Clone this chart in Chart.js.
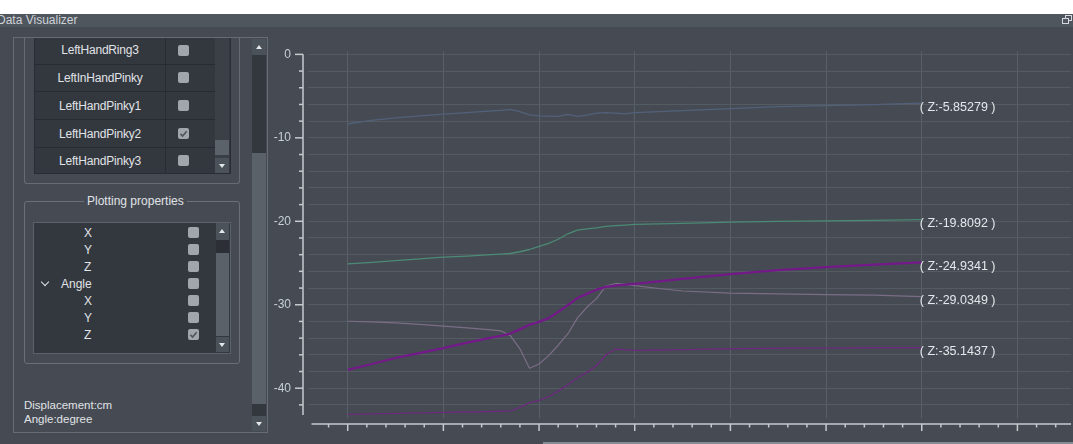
<!DOCTYPE html>
<html><head><meta charset="utf-8">
<script src="https://cdn.jsdelivr.net/npm/chart.js@4/dist/chart.umd.min.js"></script>
<style>
html,body{margin:0;padding:0;}
body{width:1073px;height:444px;overflow:hidden;background:#464b53;position:relative;font-family:"Liberation Sans",Arial,sans-serif;}
.a{position:absolute;}
.cb{position:absolute;width:11px;height:11px;background:#a1a6ad;border-radius:2px;}
.txt{position:absolute;color:#e0e3e7;white-space:nowrap;}
.btn{position:absolute;background:#4c5259;}
.up,.dn{position:absolute;width:0;height:0;border-left:3.5px solid transparent;border-right:3.5px solid transparent;}
.up{border-bottom:4px solid #e4e7ea;}
.dn{border-top:4px solid #e4e7ea;}
#chartBox{position:absolute;left:268px;top:27px;width:805px;height:417px;}
</style></head><body>
<div class="a" style="left:0;top:0;width:1073px;height:14px;background:#ffffff"></div>
<div class="a" style="left:0;top:14px;width:1073px;height:13px;background:#50565e"></div>
<div class="txt" style="left:-3px;top:13px;height:14px;line-height:14px;font-size:12px;color:#cfd3d8">Data Visualizer</div>
<div class="a" style="left:1065px;top:15px;width:5px;height:4px;border:1px solid #d5d9dd"></div>
<div class="a" style="left:1062px;top:18px;width:5px;height:4px;border:1px solid #d5d9dd;background:#50565e"></div>

<!-- outer frame -->
<div class="a" style="left:13px;top:37px;width:253px;height:394px;border:1px solid #666c74"></div>
<!-- top group box (scrolled, top clipped) -->
<div class="a" style="left:24px;top:38px;width:214px;height:145px;border:1px solid #666c74;border-top:none;border-radius:0 0 3px 3px"></div>
<!-- top list -->
<div class="a" style="left:34px;top:38px;width:195px;height:135px;background:#33373e;border:1px solid #2a2e34;border-top:none"></div>
<div class="a" style="left:165px;top:38px;width:1px;height:135px;background:#292c32"></div>
<div id="topList"></div>
<!-- top list scrollbar -->
<div class="a" style="left:215px;top:38px;width:14px;height:120px;background:#3b3f46"></div>
<div class="a" style="left:215px;top:140px;width:14px;height:15px;background:#5c626a"></div>
<div class="btn" style="left:215px;top:158px;width:14px;height:15px"></div>
<div class="dn" style="left:218.5px;top:164px"></div>

<!-- big scrollbar -->
<div class="btn" style="left:252px;top:39px;width:14px;height:16px"></div>
<div class="up" style="left:255.5px;top:45px"></div>
<div class="a" style="left:252px;top:55px;width:14px;height:98px;background:#33373e"></div>
<div class="a" style="left:252px;top:153px;width:14px;height:251px;background:#5b6169"></div>
<div class="a" style="left:252px;top:404px;width:14px;height:12px;background:#33373e"></div>
<div class="btn" style="left:252px;top:416px;width:14px;height:15px"></div>
<div class="dn" style="left:255.5px;top:422px"></div>

<!-- plotting properties group -->
<div class="a" style="left:24px;top:201px;width:214px;height:161px;border:1px solid #6a7078;border-radius:3px"></div>
<div class="txt" style="left:84px;top:194px;padding:0 3px;background:#464b53;font-size:12px;line-height:15px">Plotting properties</div>
<div class="a" style="left:33px;top:222px;width:196px;height:130px;background:#33373e;border:1px solid #5c6269"></div>
<div id="propList"></div>
<div class="btn" style="left:216px;top:223px;width:13px;height:17px"></div>
<div class="up" style="left:219px;top:229px"></div>
<div class="a" style="left:216px;top:240px;width:13px;height:13px;background:#2c3036"></div>
<div class="a" style="left:216px;top:253px;width:13px;height:83px;background:#5b6169"></div>
<div class="btn" style="left:216px;top:337px;width:13px;height:15px"></div>
<div class="dn" style="left:219px;top:343px"></div>

<div class="txt" style="left:24px;top:398px;line-height:14px;font-size:11.5px">Displacement:cm</div>
<div class="txt" style="left:24px;top:411.5px;line-height:14px;font-size:11.5px">Angle:degree</div>
<div class="a" style="left:543px;top:442px;width:530px;height:2px;background:#858b92"></div>

<div id="chartBox"><canvas id="c" width="805" height="417"></canvas></div>

<script>
// ---- panel content ----
const listNames = ['LeftHandRing3','LeftInHandPinky','LeftHandPinky1','LeftHandPinky2','LeftHandPinky3'];
const listChecked = [false,false,false,true,false];
const propNames = ['X','Y','Z','Angle','X','Y','Z'];
const propChecked = [false,false,false,false,false,false,true];

const checkSvg = '<svg width="11" height="11" style="display:block"><path d="M2.4 5.9 L4.6 8 L8.7 3.2" stroke="#52575e" stroke-width="1.7" fill="none"/></svg>';
function checkbox(x, y, checked){
  return '<div class="cb" style="left:'+x+'px;top:'+y+'px">'+(checked?checkSvg:'')+'</div>';
}
let h = '';
const rowCenters = [50, 77.5, 105.5, 133.5, 160.5];
listNames.forEach((n,i)=>{
  const c = rowCenters[i];
  h += '<div class="txt" style="left:35px;width:130px;text-align:center;top:'+(c-7)+'px;line-height:14px;font-size:12px;letter-spacing:-0.2px">'+n+'</div>';
  h += checkbox(178, c-5.5, listChecked[i]);
  if (i < listNames.length-1) h += '<div class="a" style="left:35px;top:'+(c+13.5)+'px;width:180px;height:1px;background:#282b31"></div>';
});
document.getElementById('topList').innerHTML = h;
h = '';
propNames.forEach((n,i)=>{
  const c = 232.5 + 17*i;
  const isParent = n === 'Angle';
  h += '<div class="txt" style="left:'+(isParent?61:84)+'px;top:'+(c-7)+'px;line-height:14px;font-size:12px">'+n+'</div>';
  if (isParent) h += '<div class="a" style="left:42px;top:'+(c-5)+'px;width:5px;height:5px;border-right:1.5px solid #e0e3e7;border-bottom:1.5px solid #e0e3e7;transform:rotate(45deg)"></div>';
  h += checkbox(188, c-5.5, propChecked[i]);
});
document.getElementById('propList').innerHTML = h;

// ---- chart data ----
const frames = [0,0.25,0.5,0.75,1,1.25,1.5,1.6,1.7,1.8,1.9,2,2.1,2.2,2.3,2.4,2.5,2.6,2.7,2.8,2.9,3,3.25,3.5,4,4.5,5,5.5,6];
const zBlue   = [-8.34,-7.91,-7.6,-7.36,-7.17,-6.97,-6.78,-6.7,-6.6,-6.85,-7.25,-7.38,-7.4,-7.44,-7.2,-7.42,-7.29,-7.05,-6.98,-7.05,-7.12,-6.98,-6.86,-6.75,-6.51,-6.27,-6.13,-6.01,-5.85279];
const zGreen  = [-25.11,-24.92,-24.72,-24.5,-24.3,-24.17,-24.0,-23.93,-23.86,-23.65,-23.38,-23.0,-22.65,-22.15,-21.5,-21.05,-20.9,-20.78,-20.62,-20.52,-20.45,-20.38,-20.3,-20.25,-20.1,-20.02,-19.96,-19.9,-19.8092];
const zPurple = [-37.79,-37.1,-36.38,-35.8,-35.2,-34.55,-33.95,-33.72,-33.45,-32.95,-32.4,-32.05,-31.6,-30.85,-30.05,-29.2,-28.7,-28.2,-27.85,-27.7,-27.58,-27.5,-27.2,-26.9,-26.33,-25.85,-25.5,-25.2,-24.9341];
const zGray   = [-31.98,-32.05,-32.17,-32.35,-32.56,-32.78,-33.0,-33.12,-33.7,-35.28,-37.6,-37.1,-36.1,-34.85,-33.5,-31.6,-30.3,-29.27,-27.75,-27.45,-27.55,-27.72,-28.05,-28.35,-28.6,-28.7,-28.78,-28.85,-29.0349];
const zViolet = [-43.14,-43.08,-43.02,-42.96,-42.9,-42.85,-42.8,-42.76,-42.72,-42.3,-41.75,-41.45,-41.0,-40.35,-39.6,-38.75,-38.1,-37.3,-36.0,-35.3,-35.4,-35.47,-35.42,-35.38,-35.28,-35.22,-35.17,-35.15,-35.1437];

const xMin = -0.415, xMax = 7.56, xMinorStep = 0.2;
const yMin = -43.57, yMax = 0.38, yMinorStep = 2, yMajorStep = 10, yAxisEnd = -43.2;

const pts = arr => frames.map((f,i)=>({x:f, y:arr[i]}));
const isInt = v => Math.abs(v - Math.round(v)) < 1e-6;

const axesPlugin = {
  id:'axes',
  afterDraw(chart){
    const {ctx, chartArea:a, scales:{x, y}} = chart;
    ctx.save();
    ctx.strokeStyle = '#c6cacf';
    ctx.lineWidth = 1.5;
    const ax = a.left - 5;
    const yTop = y.getPixelForValue(0), yBot = y.getPixelForValue(yAxisEnd);
    ctx.beginPath(); ctx.moveTo(ax, yTop); ctx.lineTo(ax, yBot); ctx.stroke();
    y.ticks.forEach(t=>{
      const py = y.getPixelForValue(t.value);
      if (py > yBot + 0.5 || py < yTop - 0.5) return;
      const len = Math.abs(t.value % yMajorStep) < 1e-9 ? 8 : 4;
      ctx.beginPath(); ctx.moveTo(ax - len, py); ctx.lineTo(ax, py); ctx.stroke();
    });
    const ay = a.bottom + 6;
    const xs = a.left + 3.5;
    ctx.beginPath(); ctx.moveTo(xs, ay); ctx.lineTo(a.right, ay); ctx.stroke();
    x.ticks.forEach(t=>{
      const px = x.getPixelForValue(t.value);
      if (px < xs || px > a.right) return;
      const len = isInt(t.value) ? 7 : 3.5;
      ctx.beginPath(); ctx.moveTo(px, ay); ctx.lineTo(px, ay + len); ctx.stroke();
    });
    ctx.restore();
  }
};
const endLabelPlugin = {
  id:'endLabels',
  afterDatasetsDraw(chart){
    const ctx = chart.ctx;
    ctx.save();
    ctx.font = '12.5px "Liberation Sans", Arial, sans-serif';
    ctx.fillStyle = '#e4e8ec';
    ctx.textAlign = 'left';
    ctx.textBaseline = 'middle';
    chart.data.datasets.forEach((ds,i)=>{
      const meta = chart.getDatasetMeta(i);
      const el = meta.data[meta.data.length-1];
      const v = ds.data[ds.data.length-1].y;
      ctx.fillText('( Z:' + v + ' )', el.x - 2, el.y + 4);
    });
    ctx.restore();
  }
};

const mk = (arr, color, w) => ({data: pts(arr), borderColor: color, borderWidth: w, pointRadius: 0, tension: 0, fill: false, borderJoinStyle:'round'});

new Chart(document.getElementById('c'), {
  type:'line',
  data:{ datasets:[
    mk(zPurple, '#74198a', 2.3),
    mk(zBlue, '#52617a', 1.3),
    mk(zGreen, '#4b8a74', 1.3),
    mk(zGray, '#7b6d86', 1.2),
    mk(zViolet, '#6b2b7c', 1.4)
  ]},
  options:{
    responsive:false, animation:false,
    layout:{padding:{top:13, right:2, left:0, bottom:0}},
    plugins:{legend:{display:false}, tooltip:{enabled:false}},
    events:[],
    scales:{
      x:{type:'linear', min:xMin, max:xMax,
        ticks:{display:false, stepSize:xMinorStep, autoSkip:false, includeBounds:false},
        grid:{drawTicks:false, color: c => (c.tick && isInt(c.tick.value)) ? '#586069' : 'rgba(0,0,0,0)', lineWidth:1},
        border:{display:false},
        afterFit: s => { s.height = 26; }
      },
      y:{type:'linear', min:yMin, max:yMax,
        ticks:{stepSize:yMinorStep, autoSkip:false, includeBounds:false, padding:17, color:'#c6cfd9',
          font:{family:'"Liberation Sans", Arial, sans-serif', size:12},
          callback: v => Math.abs(v % yMajorStep) < 1e-9 ? String(v === 0 ? 0 : v) : ''},
        grid:{drawTicks:false, color:'#555b63', lineWidth:1},
        border:{display:false},
        afterFit: s => { s.width = 40; }
      }
    }
  },
  plugins:[axesPlugin, endLabelPlugin]
});
</script>
</body></html>
